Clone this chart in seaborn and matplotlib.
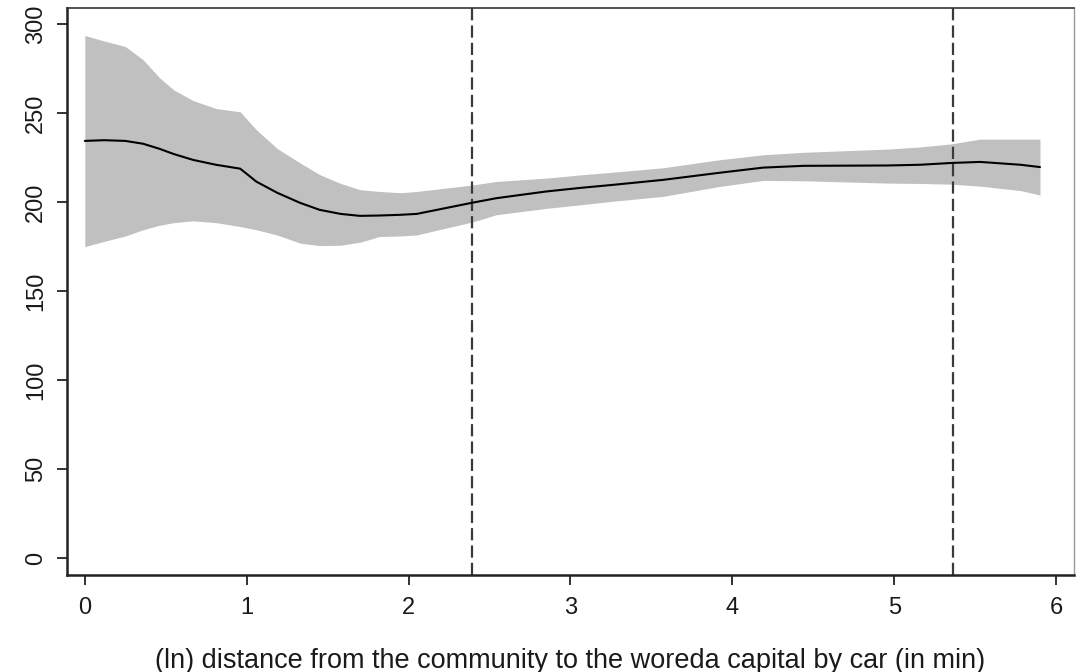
import matplotlib
matplotlib.use("Agg")
import matplotlib.pyplot as plt
import seaborn as sns
import numpy as np
import pandas as pd

# Local polynomial fit of the outcome on (ln) travel time, with 95% CI band
distance = [0.00, 0.12, 0.25, 0.36, 0.46, 0.55, 0.67, 0.81, 0.96, 1.06, 1.19,
            1.33, 1.45, 1.58, 1.70, 1.82, 1.95, 2.05, 2.40, 2.54, 2.85, 3.06,
            3.26, 3.57, 3.92, 4.19, 4.44, 4.96, 5.16, 5.35, 5.53, 5.78, 5.90]
fitted = [234.4, 234.8, 234.4, 232.8, 230.0, 227.0, 223.7, 221.0, 218.8, 211.5,
          205.2, 199.6, 195.7, 193.4, 192.3, 192.5, 192.9, 193.4, 199.8, 202.2,
          206.0, 208.0, 209.7, 212.5, 216.5, 219.4, 220.4, 220.6, 221.0, 222.0,
          222.6, 221.0, 219.7]
ci_upper = [293.6, 290.5, 287.4, 280.0, 270.0, 263.0, 257.0, 252.6, 250.7, 240.6,
            230.0, 222.0, 215.5, 210.5, 207.0, 206.0, 205.3, 206.0, 209.7, 211.6,
            213.5, 215.3, 216.8, 219.3, 223.8, 226.6, 228.0, 229.8, 231.0, 232.7,
            235.4, 235.4, 235.4]
ci_lower = [175.0, 178.0, 181.0, 184.5, 187.0, 188.5, 189.5, 188.5, 186.3, 184.5,
            181.5, 177.0, 175.6, 175.8, 177.5, 180.7, 181.0, 181.6, 189.0, 192.9,
            196.5, 198.5, 200.5, 203.2, 208.8, 212.2, 212.0, 210.7, 210.5, 210.1,
            209.0, 206.5, 204.0]
cutoffs = [2.39, 5.36]
x_ticks = [0, 1, 2, 3, 4, 5, 6]
y_ticks = [0, 50, 100, 150, 200, 250, 300]
x_label = "(ln) distance from the community to the woreda capital by car (in min)"

df = pd.DataFrame({"distance": distance, "fitted": fitted,
                   "lo": ci_lower, "hi": ci_upper})

sns.set_style("white")
plt.rcParams["font.family"] = ["Liberation Sans", "DejaVu Sans"]

fig = plt.figure(figsize=(10.81, 6.72), dpi=100)
ax = fig.add_axes([0.062, 0.1443, 0.9315, 0.8437])

ax.fill_between(df["distance"], df["lo"], df["hi"], color="#c0c0c0",
                linewidth=0, zorder=1)
sns.lineplot(data=df, x="distance", y="fitted", ax=ax, color="black",
             linewidth=1.5, zorder=3)

for c in cutoffs:
    ax.axvline(c, color="#3a3a3a", linewidth=1.6, dashes=(5.5, 2.3), zorder=2)

ax.set_xlim(-0.11, 6.11)
ax.set_ylim(-9.4, 309)
ax.set_xticks(x_ticks)
ax.set_yticks(y_ticks)
ax.set_xticklabels([str(t) for t in x_ticks], fontsize=17, color="#1a1a1a")
ax.set_yticklabels([str(t) for t in y_ticks], fontsize=17, color="#1a1a1a",
                   rotation=90, va="center")
ax.tick_params(axis="x", direction="out", length=7.5, width=1.4, color="#333333",
               pad=8, bottom=True)
ax.tick_params(axis="y", direction="out", length=7.5, width=1.4, color="#333333",
               pad=7, left=True)
ax.set_xlabel(x_label, fontsize=19.5, color="#1a1a1a", labelpad=21)
ax.set_ylabel("")

for side in ["left", "bottom"]:
    ax.spines[side].set_color("#222222")
    ax.spines[side].set_linewidth(1.8)
ax.spines["top"].set_color("#333333")
ax.spines["top"].set_linewidth(1.2)
ax.spines["right"].set_color("#9a9a9a")
ax.spines["right"].set_linewidth(1.0)

fig.savefig("out.png", dpi=100)
